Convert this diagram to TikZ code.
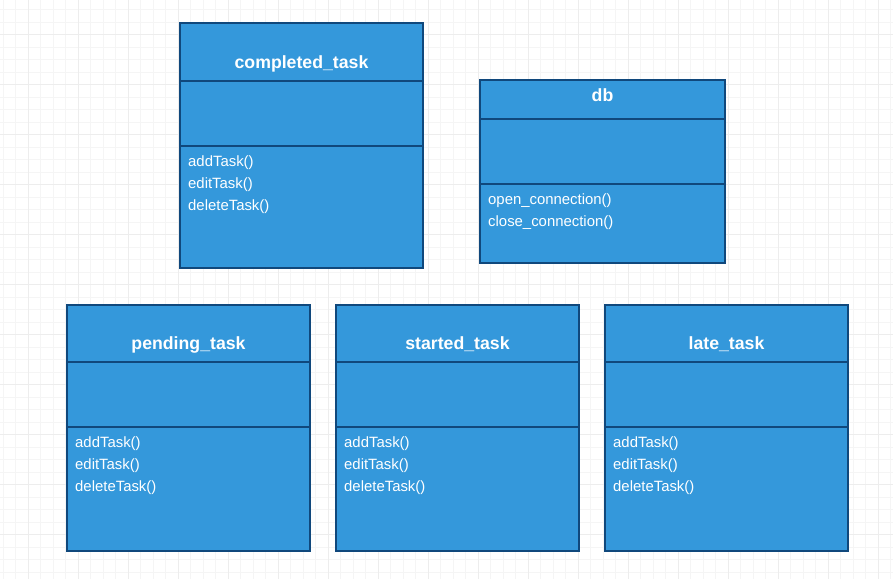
\documentclass[tikz,border=0pt]{standalone}
\usepackage{fontspec}
\setmainfont{Liberation Sans}
\definecolor{clsfill}{RGB}{52,152,219}
\definecolor{clsline}{RGB}{16,72,124}
\definecolor{gridminor}{RGB}{245,245,245}
\definecolor{gridmajor}{RGB}{237,237,237}
\tikzset{
  clsbox/.style={draw=clsline, fill=clsfill, line width=2pt},
  clsdiv/.style={draw=clsline, line width=2pt},
  clstitle/.style={text=white, font=\fontsize{17.7}{21}\selectfont\bfseries, anchor=base, inner sep=0pt},
  clsop/.style={text=white, font=\fontsize{14.9}{18}\selectfont, anchor=base west, inner sep=0pt},
}
% #1 name, #2 x, #3 y, #4 width, #5 height, #6 header height, #7 divider offset, #8 title baseline offset, #9 title
\newcommand{\umlcls}[9]{%
  \draw[clsbox] (#2,#3) rectangle ++(#4,#5);
  \draw[clsdiv] (#2,#3+#6) -- ++(#4,0);
  \draw[clsdiv] (#2,#3+#7) -- ++(#4,0);
  \node[clstitle] (#1-title) at (#2+#4/2,#3+#8) {#9};
  \coordinate (#1-ops) at (#2+8,#3+#7+20);
}
\begin{document}
\begin{tikzpicture}[x=1pt,y=-1pt]
\useasboundingbox (0,0) rectangle (893,579);
\fill[white] (0,0) rectangle (893,579);
% grid
\foreach \i in {0,...,71} {\draw[gridminor, line width=0.7pt] (3.3+12.5*\i,0) -- (3.3+12.5*\i,579);}
\foreach \i in {0,...,46} {\draw[gridminor, line width=0.7pt] (0,9.5+12.5*\i) -- (893,9.5+12.5*\i);}
\foreach \i in {0,...,17} {\draw[gridmajor, line width=0.7pt] (28.3+50*\i,0) -- (28.3+50*\i,579);}
\foreach \i in {0,...,11} {\draw[gridmajor, line width=0.7pt] (0,34.5+50*\i) -- (893,34.5+50*\i);}

% classes
\umlcls{ct}{180}{23}{243}{245}{58}{123}{45}{completed\_task}
\umlcls{db}{480}{80}{245}{183}{39}{104}{21.5}{db}
\umlcls{pt}{67}{305}{243}{246}{57}{122}{44}{pending\_task}
\umlcls{st}{336}{305}{243}{246}{57}{122}{44}{started\_task}
\umlcls{lt}{605}{305}{243}{246}{57}{122}{44}{late\_task}

\foreach \c in {ct,pt,st,lt} {
  \node[clsop] (\c-m1) at (\c-ops) {addTask()};
  \node[clsop] (\c-m2) at ([yshift=-22pt]\c-ops) {editTask()};
  \node[clsop] (\c-m3) at ([yshift=-44pt]\c-ops) {deleteTask()};
}
\node[clsop] (db-m1) at (db-ops) {open\_connection()};
\node[clsop] (db-m2) at ([yshift=-22pt]db-ops) {close\_connection()};
\end{tikzpicture}
\end{document}
